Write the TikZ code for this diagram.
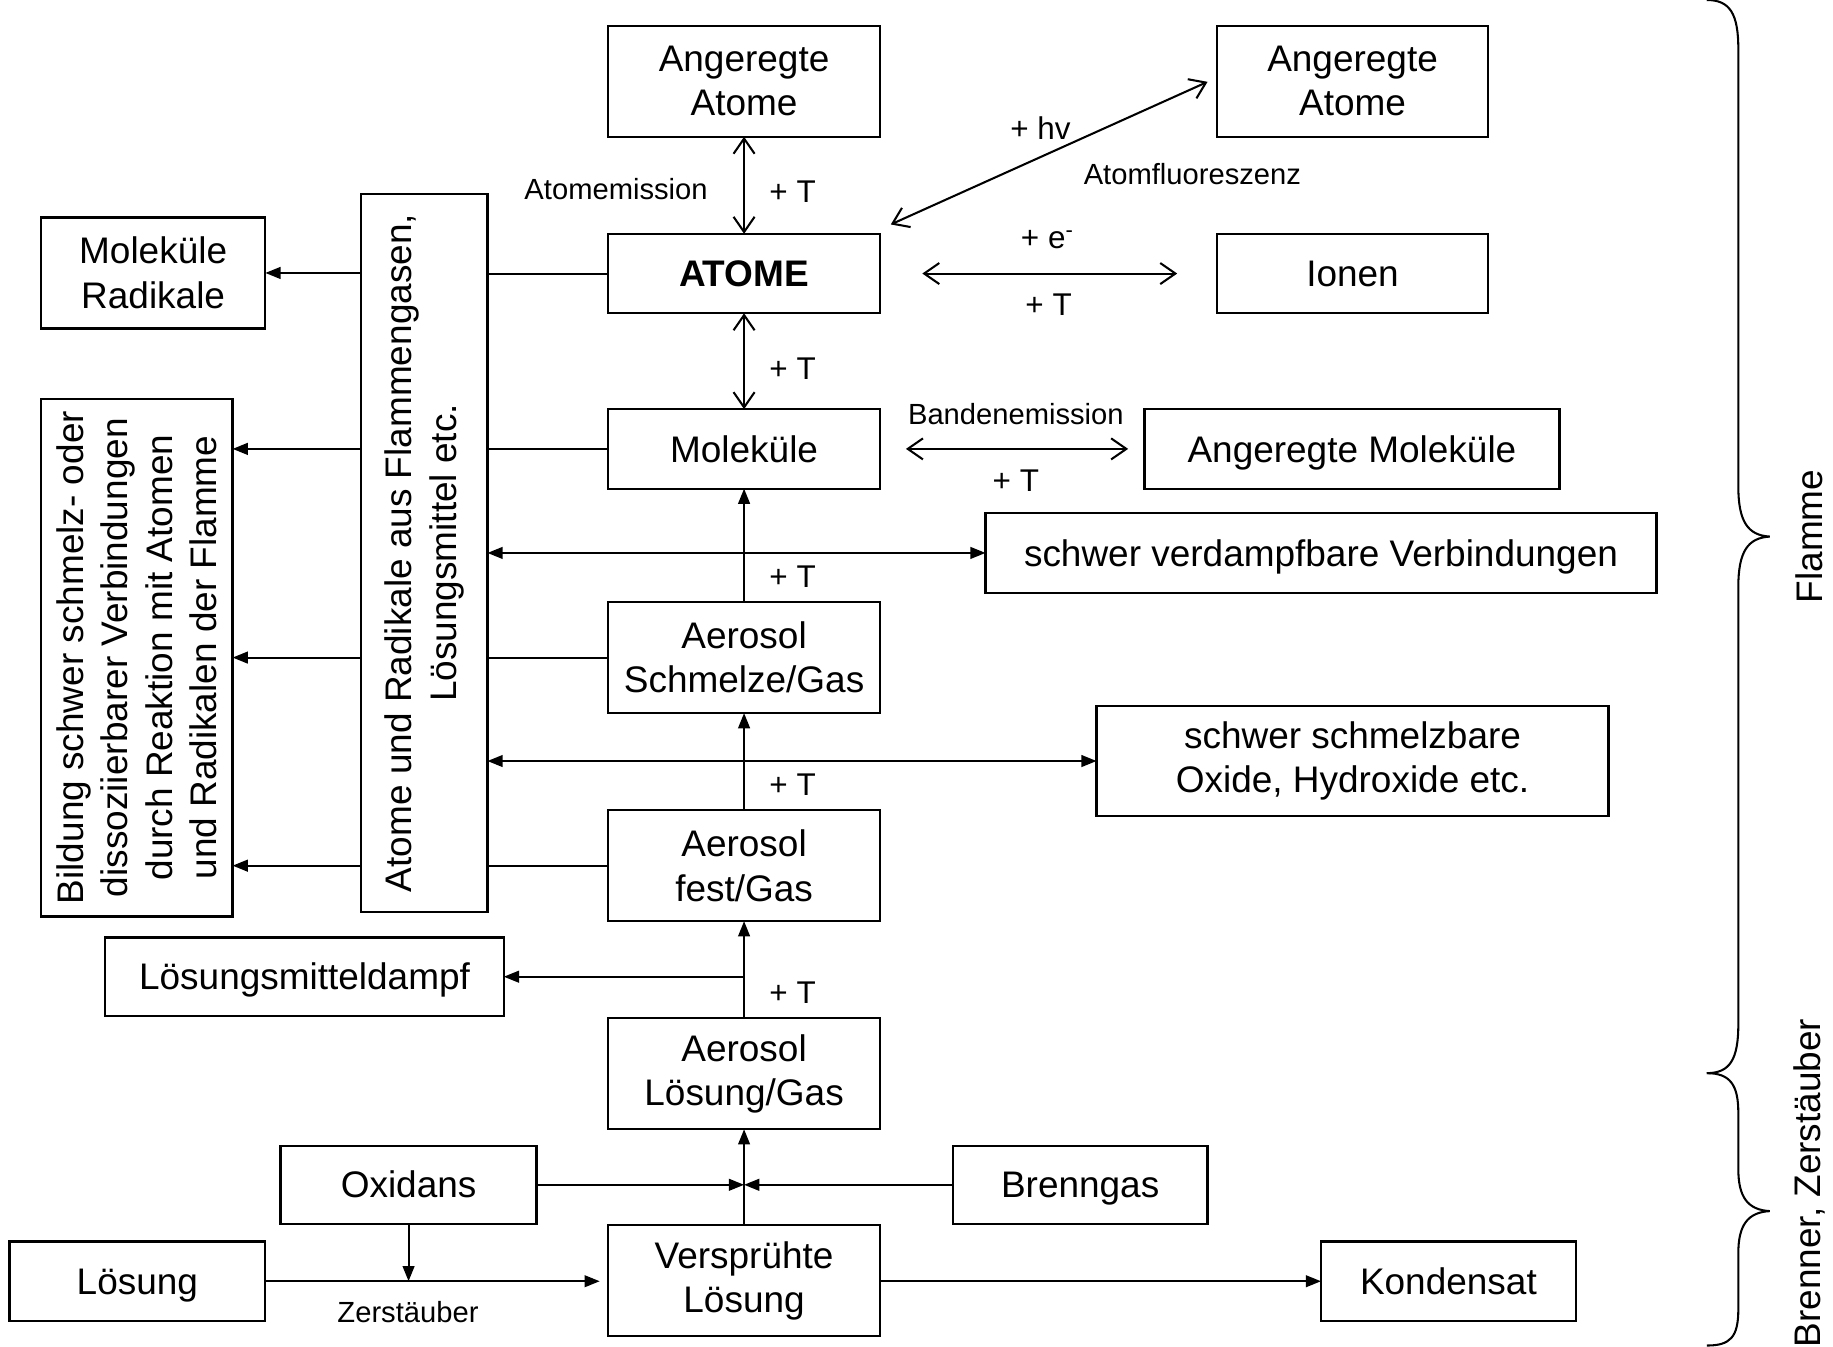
\documentclass[tikz,border=0pt]{standalone}
\usepackage{fontspec}
\setmainfont{Liberation Sans}
\usetikzlibrary{arrows.meta}
\newcommand\boxfnt{\fontsize{18}{21.6}\selectfont}
\newcommand\lblfnt{\fontsize{14.2}{17}\selectfont}
\newcommand\plusfnt{\fontsize{15.3}{18}\selectfont}
\begin{document}
\begin{tikzpicture}[x=0.02cm,y=-0.02cm,
  box/.style={draw, line width=1.1pt, inner sep=0pt, outer sep=0pt, align=center, font=\boxfnt},
  oneline/.style={text height=16.6pt, text depth=3.8pt},
  lbl/.style={font=\lblfnt, inner sep=0pt},
  plus/.style={font=\plusfnt, inner sep=0pt},
  conn/.style={line width=1pt},
  fa/.style={conn, -{Triangle[length=0.26cm,width=0.2cm]}},
  fab/.style={conn, {Triangle[length=0.26cm,width=0.2cm]}-{Triangle[length=0.26cm,width=0.2cm]}},
  oab/.style={conn, {Straight Barb[length=0.26cm,width=0.36cm,line width=1pt]}-{Straight Barb[length=0.26cm,width=0.36cm,line width=1pt]}},
  brace/.style={line width=1pt}]
\useasboundingbox (0,0) rectangle (1568,1152);

% central chain
\node[box, minimum width=4.66cm, minimum height=1.9cm] (aa1) at (636.5,69.5) {Angeregte\\Atome};
\node[box, oneline, minimum width=4.66cm, minimum height=1.36cm, font=\boxfnt\bfseries] (atome) at (636.5,234) {ATOME};
\node[box, oneline, minimum width=4.66cm, minimum height=1.36cm] (mol) at (636.5,384) {Moleküle};
\node[box, minimum width=4.66cm, minimum height=1.9cm] (as) at (636.5,562.5) {Aerosol\\Schmelze/Gas};
\node[box, minimum width=4.66cm, minimum height=1.9cm] (af) at (636.5,740.5) {Aerosol\\fest/Gas};
\node[box, minimum width=4.66cm, minimum height=1.9cm] (al) at (636.5,918.5) {Aerosol\\Lösung/Gas};
\node[box, minimum width=4.66cm, minimum height=1.9cm] (vs) at (636.5,1095.5) {Versprühte\\Lösung};

% right column
\node[box, minimum width=4.64cm, minimum height=1.9cm] (aa2) at (1157,69.5) {Angeregte\\Atome};
\node[box, oneline, minimum width=4.64cm, minimum height=1.36cm] (ionen) at (1157,234) {Ionen};
\node[box, oneline, minimum width=7.1cm, minimum height=1.36cm] (angmol) at (1156.5,384) {Angeregte Moleküle};
\node[box, oneline, minimum width=11.48cm, minimum height=1.36cm] (sv) at (1130,473) {schwer verdampfbare Verbindungen};
\node[box, minimum width=8.76cm, minimum height=1.88cm] (ssox) at (1157,651) {schwer schmelzbare\\Oxide, Hydroxide etc.};
\node[box, oneline, minimum width=4.36cm, minimum height=1.34cm] (bg) at (924,1013.5) {Brenngas};
\node[box, oneline, minimum width=4.36cm, minimum height=1.36cm] (kond) at (1239,1096) {Kondensat};

% left side
\node[box, minimum width=3.84cm, minimum height=1.9cm] (mr) at (131,233.5) {Moleküle\\Radikale};
\node[box, rotate=90, minimum width=12.28cm, minimum height=2.16cm] (vb) at (363,473)
  {Atome und Radikale aus Flammengasen,\\Lösungsmittel etc.};
\node[box, rotate=90, minimum width=8.86cm, minimum height=3.28cm] (bild) at (117,562.5)
  {Bildung schwer schmelz- oder\\dissoziierbarer Verbindungen\\durch Reaktion mit Atomen\\und Radikalen der Flamme};
\node[box, oneline, minimum width=6.82cm, minimum height=1.34cm] (lmd) at (260.5,835.5) {Lösungsmitteldampf};
\node[box, oneline, minimum width=4.38cm, minimum height=1.34cm] (oxi) at (349.5,1013.5) {Oxidans};
\node[box, oneline, minimum width=4.38cm, minimum height=1.36cm] (loe) at (117.5,1096) {Lösung};

% equilibria around the atoms
\draw[oab] (aa1.south) -- (atome.north);
\draw[oab] (atome.south) -- (mol.north);
\coordinate (fl1) at (762,192);
\coordinate (fl2) at (1033,70);
\draw[oab] (fl1) -- (fl2);
\draw[oab, shorten <=0.72cm, shorten >=0.68cm] (atome.east) -- (ionen.west);
\draw[oab, shorten <=0.44cm, shorten >=0.28cm] (mol.east) -- (angmol.west);

% upward conversion chain
\draw[fa] (as.north) -- (mol.south);
\draw[fa] (af.north) -- (as.south);
\draw[fa] (al.north) -- (af.south);
\draw[fa] (vs.north) -- (al.south);
\draw[fa] (al.north |- lmd.east) -- (lmd.east);

% side reactions with flame gases
\draw[fab] (vb.south |- sv.west) -- (sv.west);
\draw[fab] (vb.south |- ssox.west) -- (ssox.west);
\draw[conn] (vb.south |- atome.west) -- (atome.west);
\draw[conn] (vb.south |- mol.west) -- (mol.west);
\draw[conn] (vb.south |- as.west) -- (as.west);
\draw[conn] (vb.south |- af.west) -- (af.west);
\draw[fa] (vb.north |- mr.east) -- (mr.east);
\draw[fa] (vb.north |- mol.west) -- (bild.south |- mol.west);
\draw[fa] (vb.north |- as.west) -- (bild.south |- as.west);
\draw[fa] (vb.north |- af.west) -- (bild.south |- af.west);

% burner and nebulizer
\coordinate (mix) at (636.5,1013.5);
\draw[fa] (oxi.east) -- (mix);
\draw[fa] (bg.west) -- (mix);
\draw[fa] (oxi.south) -- (oxi.south |- loe.east);
\draw[fa, shorten >=0.14cm] (loe.east) -- (vs.west |- loe.east);
\draw[fa] (vs.east |- kond.west) -- (kond.west);

% labels
\node[lbl] (l1) at (527,162) {Atomemission};
\node[plus] (p1) at (678,164) {+ T};
\node[plus] (p2) at (890,110) {+ hv};
\node[lbl] (l2) at (1020,149) {Atomfluoreszenz};
\node[plus] (p3) at (896,205) {+ e\textsuperscript{-}};
\node[plus] (p4) at (897,261) {+ T};
\node[plus] (p5) at (678,315) {+ T};
\node[lbl] (l3) at (869,354) {Bandenemission};
\node[plus] (p6) at (869,411) {+ T};
\node[plus] (p7) at (678,493) {+ T};
\node[plus] (p8) at (678,671) {+ T};
\node[plus] (p9) at (678,849) {+ T};
\node[lbl] (l4) at (349,1122) {Zerstäuber};

% braces for the two zones
\draw[brace] (1460,0) .. controls (1480,0) and (1487,12) .. (1487,42) -- (1487,416)
  .. controls (1487,446) and (1495,458) .. (1514,459)
  .. controls (1495,460) and (1487,472) .. (1487,502) -- (1487,876)
  .. controls (1487,906) and (1480,918) .. (1460,918);
\draw[brace] (1460,918) .. controls (1480,918) and (1487,928) .. (1487,952) -- (1487,1000)
  .. controls (1487,1024) and (1495,1035) .. (1514,1036)
  .. controls (1495,1037) and (1487,1048) .. (1487,1072) -- (1487,1120)
  .. controls (1487,1144) and (1480,1151) .. (1460,1151);
\node[font=\boxfnt, rotate=90, inner sep=0pt] (zf) at (1548,459) {Flamme};
\node[font=\boxfnt, rotate=90, inner sep=0pt] (zb) at (1548,1012) {Brenner, Zerstäuber};
\end{tikzpicture}
\end{document}
